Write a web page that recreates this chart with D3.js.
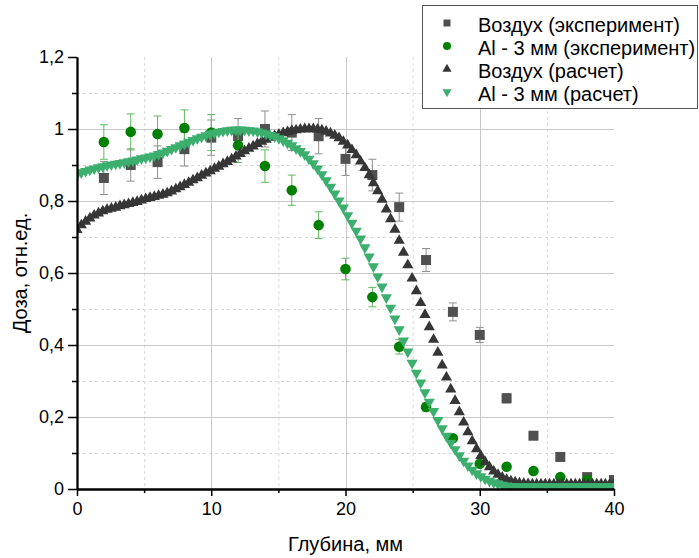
<!DOCTYPE html>
<html><head><meta charset="utf-8">
<script src="https://cdn.jsdelivr.net/npm/d3@7"></script>
<style>
html,body{margin:0;padding:0;background:#fff;}
svg{display:block;font-family:"Liberation Sans",Arial,sans-serif;}
</style></head>
<body><svg id="chart" width="699" height="558"></svg>
<script>
// ---- data ----
const expDepth = [2,4,6,8,10,12,14,16,18,20,22,24,26,28,30,32,34,36,38,40];
const airExp = [0.864,0.9,0.908,0.944,0.976,0.98,1.0,0.99,0.98,0.917,0.872,0.783,0.636,0.492,0.428,0.252,0.148,0.089,0.033,0.025];
const airExpErr = [0.046,0.045,0.045,0.047,0.049,0.049,0.05,0.05,0.049,0.046,0.044,0.039,0.032,0.025,0.021,0.013,0.007,0.004,0.002,0.001];
const alExp = [0.964,0.992,0.986,1.003,0.99,0.955,0.897,0.83,0.733,0.611,0.533,0.395,0.228,0.141,0.07,0.062,0.05,0.033,0.025,0.01];
const alExpErr = [0.048,0.05,0.05,0.05,0.05,0.048,0.045,0.042,0.037,0.03,0.027,0.02,0.011,0.007,0.004,0.003,0.003,0.002,0.001,0.001];

const calcDepth = [0,0.32,0.64,0.96,1.28,1.6,1.92,2.24,2.56,2.88,3.2,3.52,3.84,4.16,4.48,4.8,5.12,5.44,5.76,6.08,
6.4,6.72,7.04,7.36,7.68,8.0,8.32,8.64,8.96,9.28,9.6,9.92,10.24,10.56,10.88,11.2,11.52,11.84,12.16,12.48,
12.8,13.12,13.44,13.76,14.08,14.4,14.72,15.04,15.36,15.68,16.0,16.32,16.64,16.96,17.28,17.6,17.92,18.24,18.56,18.88,
19.2,19.52,19.84,20.16,20.48,20.8,21.12,21.44,21.76,22.08,22.4,22.72,23.04,23.36,23.68,24.0,24.32,24.64,24.96,25.28,
25.6,25.92,26.24,26.56,26.88,27.2,27.52,27.84,28.16,28.48,28.8,29.12,29.44,29.76,30.08,30.4,30.72,31.04,31.36,31.68,
32.0,32.32,32.64,32.96,33.28,33.6,33.92,34.24,34.56,34.88,35.2,35.52,35.84,36.16,36.48,36.8,37.12,37.44,37.76,38.08,
38.4,38.72,39.04,39.36,39.68,40.0];
const airCalc = [0.72,0.733,0.743,0.752,0.76,0.766,0.772,0.776,0.779,0.782,0.786,0.789,0.792,0.795,0.798,0.802,0.806,0.809,0.812,0.815,
0.818,0.822,0.827,0.833,0.839,0.845,0.851,0.858,0.864,0.871,0.877,0.883,0.89,0.896,0.903,0.909,0.916,0.924,0.931,0.939,
0.946,0.952,0.959,0.965,0.971,0.976,0.981,0.985,0.989,0.992,0.995,0.997,0.999,1.0,1.0,1.0,0.999,0.997,0.993,0.988,
0.982,0.975,0.965,0.955,0.942,0.928,0.91,0.892,0.872,0.85,0.828,0.804,0.777,0.75,0.721,0.69,0.657,0.622,0.585,0.55,
0.517,0.484,0.45,0.415,0.379,0.344,0.31,0.277,0.245,0.214,0.185,0.158,0.133,0.111,0.092,0.075,0.061,0.049,0.04,0.032,
0.026,0.022,0.019,0.016,0.015,0.014,0.013,0.013,0.013,0.013,0.013,0.013,0.013,0.013,0.013,0.013,0.013,0.013,0.013,0.013,
0.013,0.013,0.013,0.013,0.013,0.013];
const alCalc = [0.875,0.879,0.883,0.887,0.89,0.893,0.896,0.899,0.901,0.903,0.905,0.907,0.91,0.912,0.915,0.918,0.92,0.923,0.926,0.93,
0.934,0.939,0.944,0.949,0.954,0.959,0.964,0.969,0.974,0.978,0.982,0.986,0.989,0.992,0.994,0.996,0.997,0.998,0.998,0.997,
0.996,0.995,0.993,0.99,0.987,0.983,0.979,0.974,0.968,0.961,0.954,0.946,0.938,0.929,0.917,0.904,0.89,0.874,0.857,0.839,
0.82,0.801,0.781,0.76,0.739,0.717,0.695,0.671,0.645,0.618,0.59,0.562,0.532,0.503,0.473,0.443,0.412,0.381,0.35,0.322,
0.295,0.268,0.242,0.216,0.191,0.168,0.147,0.128,0.11,0.093,0.078,0.065,0.053,0.043,0.035,0.028,0.022,0.018,0.014,0.011,
0.009,0.008,0.007,0.007,0.007,0.007,0.007,0.007,0.007,0.007,0.007,0.007,0.007,0.007,0.007,0.007,0.007,0.007,0.007,0.007,
0.007,0.007,0.007,0.007,0.007,0.007];

const xMajor = [0,10,20,30,40];
const xMinor = [5,15,25,35];
const yMajor = [0,0.2,0.4,0.6,0.8,1.0,1.2];
const yMinor = [0.1,0.3,0.5,0.7,0.9,1.1];
const xTitle = "Глубина, мм";
const yTitle = "Доза, отн.ед.";
const legendLabels = ["Воздух (эксперимент)","Al - 3 мм (эксперимент)","Воздух (расчет)","Al - 3 мм (расчет)"];

// ---- layout ----
const L = 77, R = 614, T = 57, B = 489;
const svg = d3.select("#chart");
const x = d3.scaleLinear().domain([0,40]).range([L,R]);
const y = d3.scaleLinear().domain([0,1.2]).range([B,T]);
const fmt = d => String(+d.toFixed(1)).replace('.', ',');

const colAirExp = "#505050", colAlExp = "#008000", colAirCalc = "#363636", colAlCalc = "#3cae6e";

// grid
const grid = svg.append("g");
grid.selectAll(".gxm").data(xMinor).join("line")
  .attr("x1", d=>x(d)+0.5).attr("x2", d=>x(d)+0.5).attr("y1", T).attr("y2", B)
  .attr("stroke", "#d9d9d9").attr("stroke-dasharray", "3,3");
grid.selectAll(".gym").data(yMinor).join("line")
  .attr("y1", d=>Math.round(y(d))+0.5).attr("y2", d=>Math.round(y(d))+0.5).attr("x1", L).attr("x2", R)
  .attr("stroke", "#d9d9d9").attr("stroke-dasharray", "3,3");
grid.selectAll(".gx").data(xMajor.filter(d=>d>0 && d<40)).join("line")
  .attr("x1", d=>Math.round(x(d))+0.5).attr("x2", d=>Math.round(x(d))+0.5).attr("y1", T).attr("y2", B)
  .attr("stroke", "#c8c8c8");
grid.selectAll(".gy").data(yMajor.filter(d=>d>0 && d<1.2)).join("line")
  .attr("y1", d=>Math.round(y(d))+0.5).attr("y2", d=>Math.round(y(d))+0.5).attr("x1", L).attr("x2", R)
  .attr("stroke", "#c8c8c8");

// clip
svg.append("clipPath").attr("id","clip").append("rect")
  .attr("x", L).attr("y", T).attr("width", R-L).attr("height", B-T);
const plot = svg.append("g").attr("clip-path","url(#clip)");

function errorBars(g, xs, ys, es, color){
  const d = xs.map((v,i)=>({x:v, y:ys[i], e:es[i]}));
  const eg = g.append("g").attr("stroke", color).attr("stroke-width", 1).attr("fill","none");
  eg.selectAll("path").data(d).join("path")
    .attr("d", p => {
      const cx = x(p.x), y1 = y(p.y+p.e), y2 = y(p.y-p.e), w = 4;
      return `M${cx},${y1}V${y2}M${cx-w},${y1}H${cx+w}M${cx-w},${y2}H${cx+w}`;
    });
}
function markers(g, xs, ys, type, size, color, rot){
  const sym = d3.symbol().type(type).size(size);
  g.append("g").selectAll("path").data(xs.map((v,i)=>[v, ys[i]])).join("path")
    .attr("d", sym)
    .attr("transform", p => `translate(${x(p[0])},${y(p[1])})` + (rot ? " rotate(180)" : ""))
    .attr("fill", color);
}

errorBars(plot, expDepth, airExp, airExpErr, "#8f8f8f");
markers(plot, expDepth, airExp, d3.symbolSquare, 100, colAirExp, false);
errorBars(plot, expDepth, alExp, alExpErr, "#5dba5d");
markers(plot, expDepth, alExp, d3.symbolCircle, 88, colAlExp, false);
markers(plot, calcDepth, airCalc, d3.symbolTriangle, 54, colAirCalc, false);
markers(plot, calcDepth, alCalc, d3.symbolTriangle, 54, colAlCalc, true);

// axes
const axG = svg.append("g").attr("font-size", 18);
const xAxis = axG.append("g").attr("transform", `translate(0,${B})`)
  .call(d3.axisBottom(x).tickValues(xMajor).tickSize(7).tickSizeOuter(0).tickPadding(6).tickFormat(fmt));
const xAxisMinor = axG.append("g").attr("transform", `translate(0,${B})`)
  .call(d3.axisBottom(x).tickValues(xMinor).tickSize(4).tickSizeOuter(0).tickFormat(""));
const yAxis = axG.append("g").attr("transform", `translate(${L},0)`)
  .call(d3.axisLeft(y).tickValues(yMajor).tickSize(9).tickSizeOuter(0).tickPadding(4).tickFormat(fmt));
const yAxisMinor = axG.append("g").attr("transform", `translate(${L},0)`)
  .call(d3.axisLeft(y).tickValues(yMinor).tickSize(5).tickSizeOuter(0).tickFormat(""));
[xAxis, xAxisMinor, yAxis, yAxisMinor].forEach(a => {
  a.attr("font-family", null).attr("font-size", null);
  a.selectAll("line").attr("stroke", "#000").attr("stroke-width", 1.5);
  a.select(".domain").attr("stroke", "#000").attr("stroke-width", 1.8);
  a.selectAll("text").attr("fill", "#000");
});

// titles
svg.append("text").attr("x", (L+R)/2).attr("y", 551).attr("text-anchor","middle")
  .attr("font-size", 20).text(xTitle);
svg.append("text").attr("transform", `translate(27,${(T+B)/2}) rotate(-90)`).attr("text-anchor","middle")
  .attr("font-size", 20).text(yTitle);

// legend
const lg = svg.append("g");
lg.append("rect").attr("x", 422.5).attr("y", 5.5).attr("width", 275).attr("height", 103)
  .attr("fill", "#fff").attr("stroke", "#555").attr("stroke-width", 1);
const legItems = [
  {type: d3.symbolSquare, size: 49, color: colAirExp, rot: false},
  {type: d3.symbolCircle, size: 50, color: colAlExp, rot: false},
  {type: d3.symbolTriangle, size: 36, color: colAirCalc, rot: false},
  {type: d3.symbolTriangle, size: 36, color: colAlCalc, rot: true}
];
const rowY = [23, 46, 69, 92];
legItems.forEach((it, i) => {
  lg.append("path").attr("d", d3.symbol().type(it.type).size(it.size))
    .attr("transform", `translate(447,${rowY[i]})` + (it.rot ? " rotate(180)" : ""))
    .attr("fill", it.color);
  lg.append("text").attr("x", 478).attr("y", rowY[i] + 4).attr("dominant-baseline", "middle")
    .attr("font-size", 20).attr("fill", "#000").text(legendLabels[i]);
});
</script></body></html>
